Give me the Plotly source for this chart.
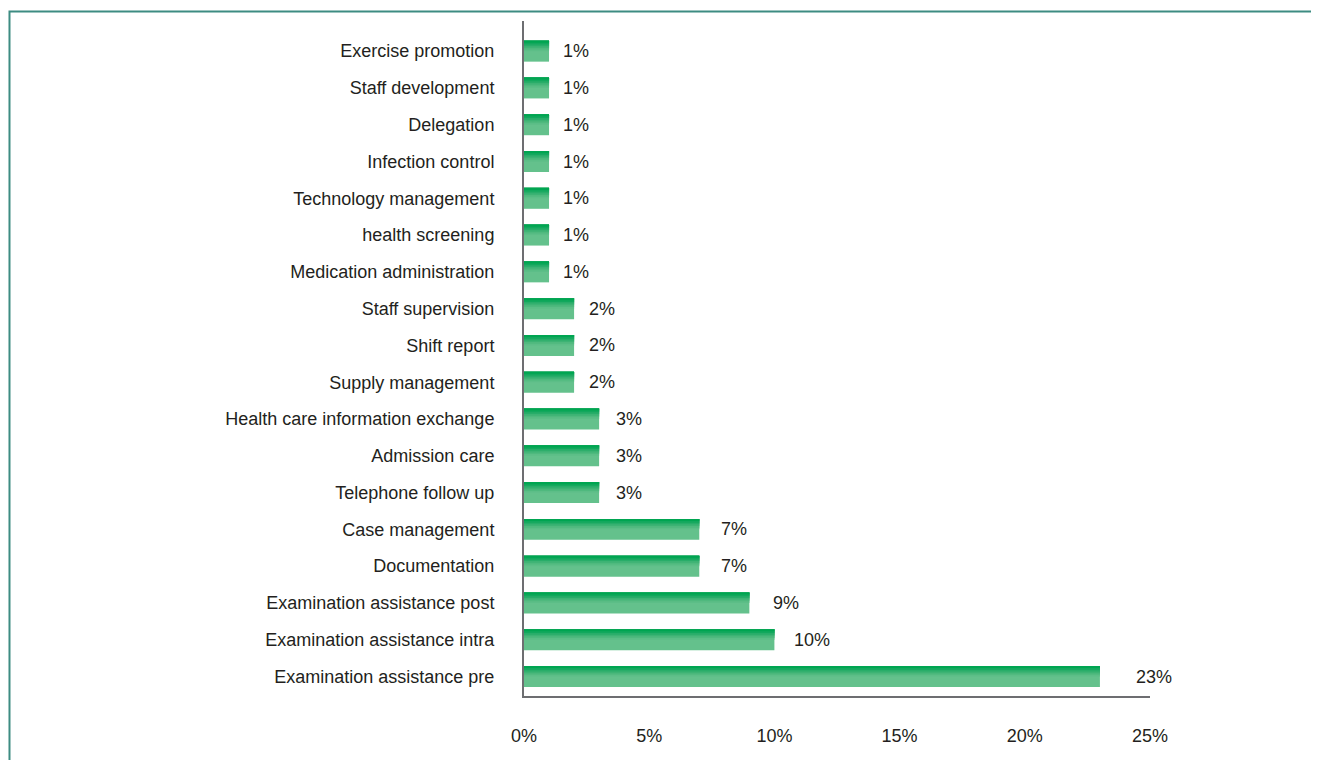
import plotly.graph_objects as go

categories = [
    "Examination assistance pre",
    "Examination assistance intra",
    "Examination assistance post",
    "Documentation",
    "Case management",
    "Telephone follow up",
    "Admission care",
    "Health care information exchange",
    "Supply management",
    "Shift report",
    "Staff supervision",
    "Medication administration",
    "health screening",
    "Technology management",
    "Infection control",
    "Delegation",
    "Staff development",
    "Exercise promotion",
]
values = [23, 10, 9, 7, 7, 3, 3, 3, 2, 2, 2, 1, 1, 1, 1, 1, 1, 1]
x_ticks = [0, 5, 10, 15, 20, 25]
x_tick_labels = ["0%", "5%", "10%", "15%", "20%", "25%"]

FONT = "Liberation Sans Narrow, Liberation Sans, Arial, sans-serif"
TEXT = "#231f20"

W = 0.57  # bar thickness in category units
base_color = "#64c18c"
bands = [  # (fraction of bar from top, color) -> gradient from dark top
    (0.50, "#5cbe87"),
    (0.42, "#4fb97e"),
    (0.34, "#3db374"),
    (0.26, "#28ad69"),
    (0.18, "#12a85d"),
    (0.10, "#00a551"),
]

fig = go.Figure()
fig.add_trace(go.Bar(
    y=categories, x=values, orientation="h", width=W,
    marker=dict(color=base_color, line=dict(width=0)),
    hoverinfo="x+y", showlegend=False,
))
for frac, col in bands:
    h = W * frac
    fig.add_trace(go.Bar(
        y=categories, x=values, orientation="h", width=h,
        offset=W / 2 - h,
        marker=dict(color=col, line=dict(width=0)),
        hoverinfo="skip", showlegend=False,
    ))

for c, v in zip(categories, values):
    fig.add_annotation(
        x=v, y=c, text=f"{v}%", showarrow=False,
        xanchor="center", yanchor="middle", xshift=26 + 1.2 * v,
        font=dict(family=FONT, size=18, color=TEXT),
    )

# outer frame
fig.add_shape(
    type="rect", xref="paper", yref="paper",
    x0=-0.8219, x1=1.5, y0=-0.5, y1=1.0141,
    line=dict(color="#3d8c82", width=2), fillcolor="rgba(0,0,0,0)",
    layer="below",
)

fig.update_layout(
    width=1319, height=760,
    margin=dict(l=516, r=177, t=13, b=72),
    paper_bgcolor="white", plot_bgcolor="white",
    barmode="overlay",
    font=dict(family=FONT, size=18, color=TEXT),
    xaxis=dict(
        range=[0, 25], tickvals=x_ticks, ticktext=x_tick_labels,
        showgrid=False, zeroline=False,
        showline=True, linecolor="#6d6e71", linewidth=2,
        ticks="", ticklabelstandoff=22,
        tickfont=dict(family=FONT, size=18, color=TEXT),
        fixedrange=True,
    ),
    yaxis=dict(
        categoryorder="array", categoryarray=categories,
        range=[-0.53, 17.82],
        showgrid=False, zeroline=False,
        showline=True, linecolor="#6d6e71", linewidth=2,
        ticks="", ticklabelstandoff=24,
        tickfont=dict(family=FONT, size=18, color=TEXT),
        fixedrange=True,
    ),
)

fig.write_html("out.html")
